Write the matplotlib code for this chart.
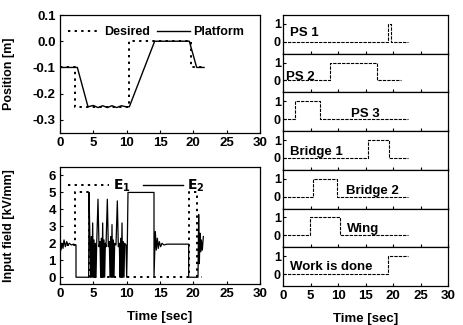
import matplotlib.pyplot as plt
from matplotlib.lines import Line2D

plt.rcParams["font.family"] = ["Liberation Sans", "DejaVu Sans"]
plt.rcParams["font.weight"] = "bold"
plt.rcParams["axes.labelweight"] = "bold"
plt.rcParams["font.size"] = 9.5
plt.rcParams["mathtext.default"] = "bf"

# position plot (top left)
desired_t = [0, 2.3, 2.3, 10.3, 10.3, 19.6, 19.6, 21.5]
desired_y = [-0.1, -0.1, -0.25, -0.25, 0.0, 0.0, -0.1, -0.1]
platform_t = [0, 2.6, 4.2, 5.0, 5.7, 6.4, 7.1, 7.8, 8.5, 9.2, 9.9, 10.4,
              14.2, 19.4, 20.5, 21.6]
platform_y = [-0.1, -0.1, -0.25, -0.245, -0.253, -0.246, -0.253, -0.246,
              -0.253, -0.246, -0.25, -0.25, 0.0, 0.0, -0.1, -0.1]

# input field plot (bottom left)
e1_t = [0, 2.3, 2.3, 4.3, 4.3, 19.3, 19.3, 20.5, 20.5, 21.3]
e1_v = [1.9, 1.9, 5.0, 5.0, 0, 0, 5.0, 5.0, 0, 0]
e2_t = [0, 0.15, 0.3, 0.45, 0.6, 0.8, 1.0, 1.2, 1.4, 1.7, 2.0, 2.4, 2.4,
        4.3, 4.35, 4.5, 4.6, 4.7, 4.8, 4.9, 5.0, 5.1, 5.2, 5.3, 5.4, 5.5,
        5.7, 5.85, 6.0, 6.1, 6.2, 6.3, 6.4, 6.5, 6.6, 6.7, 6.8, 6.9,
        7.1, 7.25, 7.4, 7.5, 7.6, 7.7, 7.8, 7.9, 8.0, 8.1, 8.2, 8.4,
        8.6, 8.75, 8.9, 9.0, 9.1, 9.2, 9.3, 9.4, 9.5, 9.6, 9.7, 9.9,
        10.0, 10.1, 10.2, 14.1, 14.1, 14.3, 14.45, 14.6, 14.75, 14.9, 15.1,
        15.3, 15.6, 16.0, 19.3, 19.3, 20.7, 20.8, 20.9, 21.0, 21.1, 21.2,
        21.35, 21.5]
e2_v = [2.6, 1.6, 2.0, 1.7, 2.2, 1.8, 2.1, 1.9, 2.0, 1.9, 1.95, 1.9, 0,
        0, 5.0, 2.0, 0, 2.4, 0, 3.2, 0, 2.2, 0, 2.0, 0, 1.9,
        4.6, 1.8, 2.1, 0, 2.3, 0, 3.2, 0, 2.2, 0, 2.0, 1.8,
        4.6, 1.8, 2.1, 0, 2.4, 0, 3.1, 0, 2.2, 0, 2.0, 1.9,
        4.5, 1.8, 2.0, 0, 2.3, 0, 3.2, 0, 2.1, 0, 2.0, 1.9,
        0, 2.0, 5.0, 5.0, 0, 2.7, 1.6, 2.3, 1.7, 2.1, 1.8,
        2.0, 1.9, 1.95, 1.95, 0, 0, 3.7, 0.8, 2.6, 1.5, 2.2,
        1.6, 2.4]

# switch signals (right column)
switch_names = ["PS 1", "PS 2", "PS 3", "Bridge 1", "Bridge 2", "Wing",
                "Work is done"]
switch_on = [19.0, 8.5, 2.2, 15.4, 5.5, 4.9, 19.0]
switch_off = [19.6, 17.0, 6.8, 19.2, 9.9, 10.4, 22.7]
switch_end = [22.7, 21.4, 22.7, 22.7, 22.7, 22.7, 22.7]
label_x = [1.3, 0.6, 12.3, 1.3, 11.5, 11.7, 1.3]
label_y = [0.5, 0.22, 0.28, 0.33, 0.33, 0.33, 0.4]

time_ticks = [0, 5, 10, 15, 20, 25, 30]

W, H = 463, 325
fig = plt.figure(figsize=(W / 100, H / 100), dpi=100)


def px_axes(left, top, right, bottom):
    return fig.add_axes([left / W, 1 - bottom / H, (right - left) / W,
                         (bottom - top) / H])


def bold_ticks(ax):
    for lbl in ax.get_xticklabels() + ax.get_yticklabels():
        lbl.set_fontweight("bold")


dot = (0, (1.2, 2.2))

ax1 = px_axes(60, 15, 260, 133)
ax1.plot(desired_t, desired_y, color="black", lw=1.4, linestyle=dot)
ax1.plot(platform_t, platform_y, color="black", lw=1.0)
ax1.set_xlim(0, 30)
ax1.set_ylim(-0.35, 0.1)
ax1.set_yticks([0.1, 0.0, -0.1, -0.2, -0.3])
ax1.set_yticklabels(["0.1", "0.0", "-0.1", "-0.2", "-0.3"])
ax1.set_xticks(time_ticks)
ax1.set_ylabel("Position [m]", fontsize=9)
ax1.yaxis.set_label_coords(-0.225, 0.5)
ax1.legend([Line2D([], [], color="black", lw=1.4, linestyle=dot),
            Line2D([], [], color="black", lw=1.0)],
           ["Desired", "Platform"], ncol=2, frameon=False,
           loc="upper left", bbox_to_anchor=(0.0, 0.97), fontsize=9,
           handlelength=2.6, columnspacing=0.6, handletextpad=0.3,
           borderaxespad=0.2)

ax2 = px_axes(60, 167, 260, 284)
ax2.plot(e1_t, e1_v, color="black", lw=1.4, linestyle=dot)
ax2.plot(e2_t, e2_v, color="black", lw=0.9)
ax2.set_xlim(0, 30)
ax2.set_ylim(-0.4, 6.5)
ax2.set_yticks(range(7))
ax2.set_xticks(time_ticks)
ax2.set_xlabel("Time [sec]", labelpad=8)
ax2.set_ylabel("Input field [kV/mm]", fontsize=9)
ax2.yaxis.set_label_coords(-0.225, 0.5)
ax2.legend([Line2D([], [], color="black", lw=1.4, linestyle=dot),
            Line2D([], [], color="black", lw=1.0)],
           ["$E_1$", "$E_2$"], ncol=2, frameon=False,
           loc="upper left", bbox_to_anchor=(0.0, 0.98), fontsize=10,
           handlelength=2.9, columnspacing=0.9, handletextpad=0.3,
           borderaxespad=0.2)

for ax in (ax1, ax2):
    ax.tick_params(direction="in", length=2.5, width=0.8, pad=3)
    bold_ticks(ax)
    for s in ax.spines.values():
        s.set_linewidth(0.9)

n = len(switch_names)
panel_h = (286 - 15) / n
for i in range(n):
    top = 15 + i * panel_h
    ax = px_axes(283, top, 448, top + panel_h)
    ts = [0, switch_on[i], switch_on[i], switch_off[i], switch_off[i],
          switch_end[i]]
    vs = [0, 0, 1, 1, 0, 0]
    if switch_names[i] == "Work is done":
        ts = [0, switch_on[i], switch_on[i], switch_end[i]]
        vs = [0, 0, 1, 1]
    ax.plot(ts, vs, color="black", lw=0.8, linestyle=(0, (3, 1)))
    ax.text(label_x[i], label_y[i], switch_names[i], fontsize=9.5,
            fontweight="bold", va="center", ha="left")
    ax.set_xlim(0, 30)
    ax.set_ylim(-0.67, 1.5)
    ax.set_yticks([0, 1])
    ax.set_xticks(time_ticks)
    ax.tick_params(direction="in", length=2, width=0.8, pad=1.5)
    ax.tick_params(axis="y", labelsize=9)
    bold_ticks(ax)
    for s in ax.spines.values():
        s.set_linewidth(0.9)
    if i < n - 1:
        ax.tick_params(labelbottom=False)
    else:
        ax.tick_params(axis="x", pad=3)
        ax.set_xlabel("Time [sec]", labelpad=8)

fig.savefig("out.png", dpi=100)
